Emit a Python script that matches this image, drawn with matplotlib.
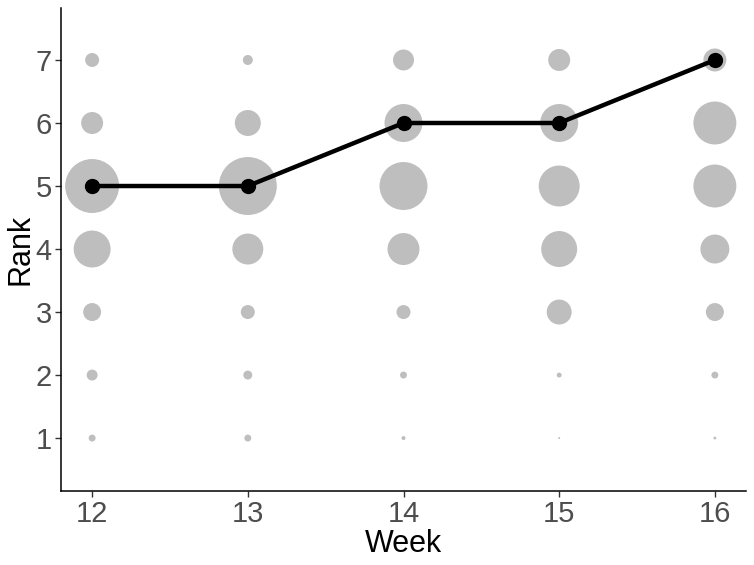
import matplotlib
matplotlib.use("Agg")
import matplotlib.pyplot as plt
import numpy as np

weeks = [12, 13, 14, 15, 16]
ranks = [1, 2, 3, 4, 5, 6, 7]
# bubble counts per week (rank 1..7)
counts = {
    12: [12, 30, 81, 342, 729, 121, 49],
    13: [12, 20, 49, 240, 841, 169, 25],
    14: [4, 12, 49, 256, 576, 361, 110],
    15: [1, 6, 156, 324, 420, 361, 121],
    16: [2, 12, 81, 210, 462, 462, 132],
}
line_rank = [5, 5, 6, 6, 7]

plt.rcParams['font.family'] = ['Liberation Sans', 'DejaVu Sans']

fig = plt.figure(figsize=(7.54, 5.65), dpi=100)
ax = fig.add_axes([61/754, 1-491/565, (746-61)/754, (491-8)/565])

for w in weeks:
    ax.scatter([w]*len(ranks), ranks, s=np.array(counts[w])*2.07,
               color='#BEBEBE', edgecolors='none', zorder=1)

ax.plot(weeks, line_rank, color='black', lw=3.2, zorder=2,
        solid_capstyle='butt')
ax.scatter(weeks, line_rank, s=100, color='black', zorder=3)

ax.set_xlim(11.80, 16.20)
ax.set_ylim(0.16, 7.825)
ax.set_xticks(weeks)
ax.set_yticks(ranks)
ax.tick_params(axis='both', labelsize=21, labelcolor='#4D4D4D',
               color='#333333', length=4.5, width=1, pad=2)
ax.set_xlabel('Week', fontsize=22, color='black', labelpad=1)
ax.set_ylabel('Rank', fontsize=22, color='black', labelpad=0)
for s in ['top', 'right']:
    ax.spines[s].set_visible(False)
for s in ['left', 'bottom']:
    ax.spines[s].set_linewidth(1.1)
    ax.spines[s].set_color('black')

fig.savefig('out.png', dpi=100)
